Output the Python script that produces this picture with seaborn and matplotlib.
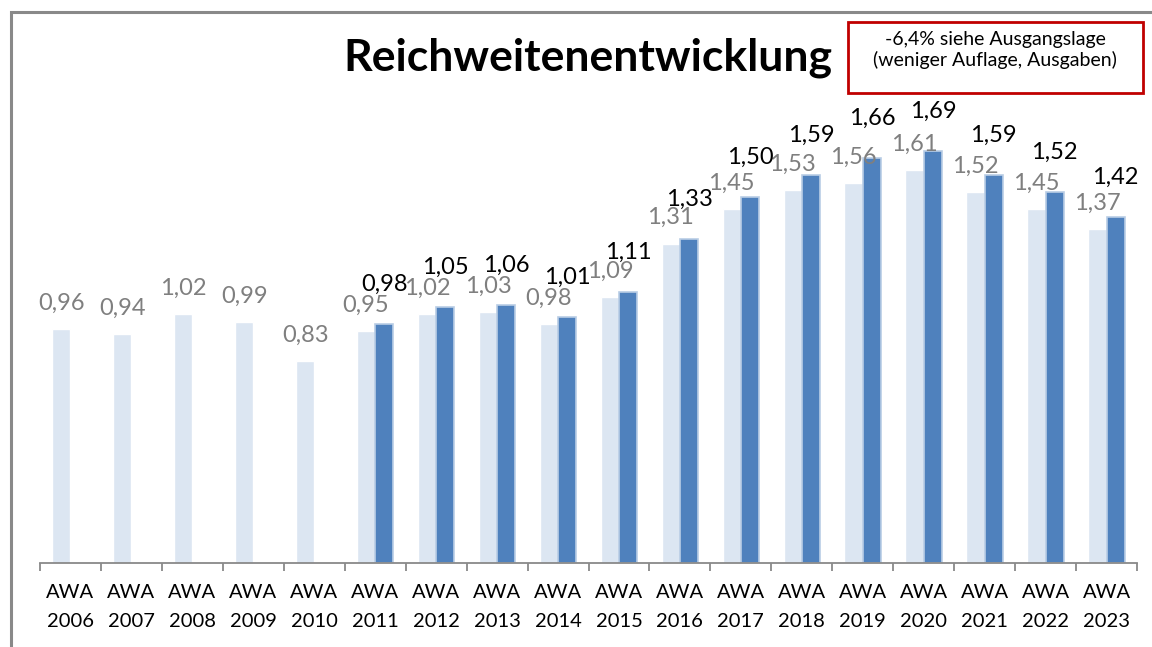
import pandas as pd
import matplotlib.pyplot as plt
import seaborn as sns
from matplotlib.patches import Rectangle

# Werte aus der Grafik
jahre = ['2006', '2007', '2008', '2009', '2010', '2011', '2012', '2013', '2014',
         '2015', '2016', '2017', '2018', '2019', '2020', '2021', '2022', '2023']
werte_alt = [0.96, 0.94, 1.02, 0.99, 0.83, 0.95, 1.02, 1.03, 0.98,
             1.09, 1.31, 1.45, 1.53, 1.56, 1.61, 1.52, 1.45, 1.37]
werte_neu = [None, None, None, None, None, 0.98, 1.05, 1.06, 1.01,
             1.11, 1.33, 1.50, 1.59, 1.66, 1.69, 1.59, 1.52, 1.42]

kategorien = ['AWA\n' + j for j in jahre]
df = pd.DataFrame({
    'kategorie': kategorien * 2,
    'wert': werte_alt + werte_neu,
    'serie': ['alt'] * len(jahre) + ['neu'] * len(jahre),
})

sns.set_style('white')
plt.rcParams['font.family'] = ['Lato', 'DejaVu Sans']
plt.rcParams['text.color'] = 'black'
plt.rcParams['xtick.color'] = 'black'

fig = plt.figure(figsize=(11.52, 6.47), dpi=100)
ax = fig.add_axes([40 / 1152, 84 / 647, 1097 / 1152, 551 / 647])

sns.barplot(data=df, x='kategorie', y='wert', hue='serie',
            palette={'alt': '#dce6f2', 'neu': '#4f81bd'}, saturation=1,
            width=0.6, gap=0, ax=ax, legend=False)

# Beschriftungen: helle Serie grau, dunkle Serie schwarz und etwas höher
for c, col, pad in zip(ax.containers, ['#7f7f7f', 'black'], [11, 21]):
    if col == 'black':
        for p in c.patches:
            p.set_edgecolor('#b9cde5')
            p.set_linewidth(1.2)
    labels = ['' if pd.isna(v) else f'{v:.2f}'.replace('.', ',') for v in c.datavalues]
    ax.bar_label(c, labels=labels, color=col, fontsize=17, padding=pad)

ax.set_ylim(0, 2.26)
ax.set_xlim(-0.5, len(jahre) - 0.5)
ax.set_xlabel('')
ax.set_ylabel('')
ax.set_yticks([])
for s in ['left', 'right', 'top']:
    ax.spines[s].set_visible(False)
ax.spines['bottom'].set_color('#898989')
ax.spines['bottom'].set_linewidth(1.3)

ax.set_xticks([i - 0.5 for i in range(len(jahre) + 1)], minor=True)
ax.tick_params(axis='x', which='minor', bottom=True, length=6, width=1.3, color='#898989')
ax.tick_params(axis='x', which='major', bottom=False, length=0, pad=15, labelcolor='black')
for t in ax.get_xticklabels():
    t.set_fontsize(14.5)
    t.set_linespacing(1.9)

fig.text(0.51, 0.91, 'Reichweitenentwicklung', fontsize=32, fontweight='bold',
         ha='center', va='center', color='black')

# roter Hinweiskasten
fig.patches.append(Rectangle((848 / 1152, 1 - 93 / 647), 295 / 1152, 71 / 647,
                             transform=fig.transFigure, fill=False,
                             edgecolor='#c00000', linewidth=2))
fig.text(995 / 1152, 1 - 50 / 647, '-6,4% siehe Ausgangslage\n(weniger Auflage, Ausgaben)',
         fontsize=14, ha='center', va='center', linespacing=1.25, color='black')

# Rahmen des Diagramms
fig.patches.append(Rectangle((11 / 1152, -0.1), 1.2, 1 - 12 / 647 + 0.1,
                             transform=fig.transFigure, fill=False,
                             edgecolor='#898989', linewidth=2.2))

plt.savefig('out.png', dpi=100)
